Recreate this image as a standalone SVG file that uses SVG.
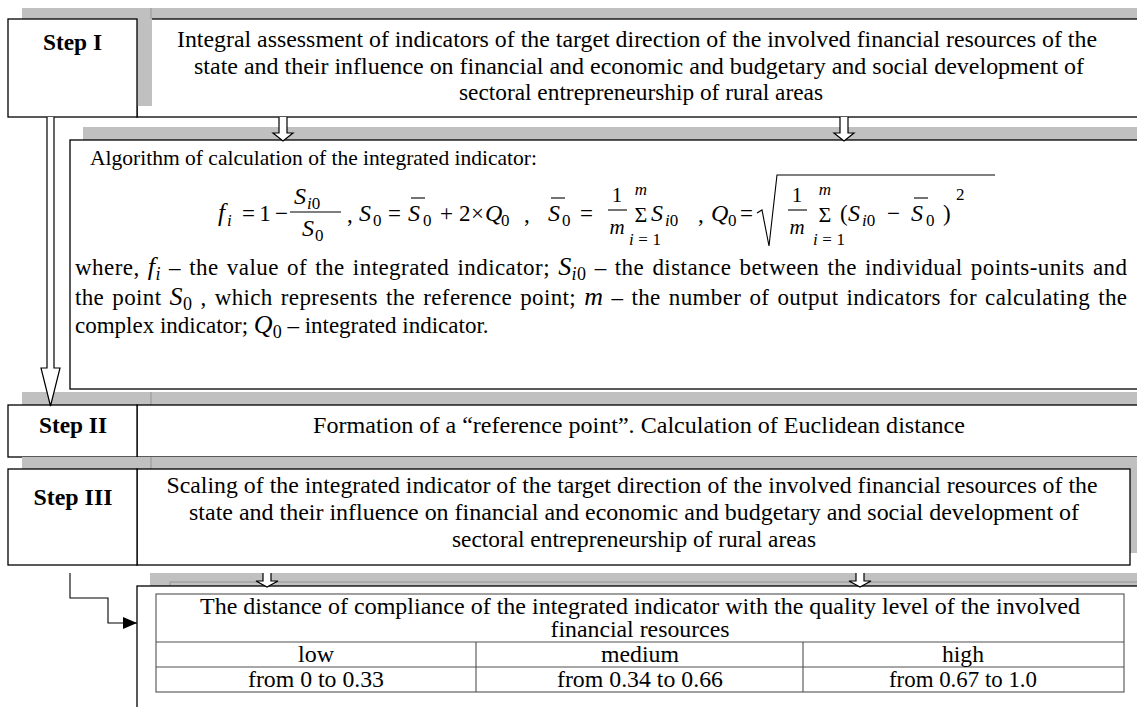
<svg xmlns="http://www.w3.org/2000/svg" width="1137" height="707" viewBox="0 0 1137 707">
<style>
.sh{fill:#c0c0c0}
.shl{stroke:#a3a3a3;stroke-width:1.5;fill:none}
.bx{fill:#fff;stroke:#000;stroke-width:1.3}
.t{font-family:"Liberation Serif","Times New Roman",serif;font-size:23.5px;fill:#000}
.a{font-size:21.5px}
.w{font-size:23px}
.j{word-spacing:2px}
.b{font-weight:bold}
.m{font-style:italic}
.ln{stroke:#000;stroke-width:1.1;fill:none}
.tb{stroke:#505050;stroke-width:1.1;fill:none}
.ha{fill:#fff;stroke:#000;stroke-width:1.2}
</style>
<defs>
<marker id="ah" markerUnits="userSpaceOnUse" markerWidth="16" markerHeight="12" refX="14" refY="6" orient="auto">
<path d="M0,0 L14,6 L0,12 Z" fill="#000"/>
</marker>
</defs>
<rect width="1137" height="707" fill="#fff"/>

<g id="step1">
<rect class="sh" x="151" y="8" width="1000" height="98"/>
<rect class="bx" x="137" y="19" width="1010" height="98"/>
<rect class="sh" x="22" y="8" width="130" height="98"/>
<line class="shl" x1="151" y1="8" x2="151" y2="19"/>
<rect class="bx" x="8" y="19" width="129" height="98"/>
<text class="t b" x="72.5" y="50" text-anchor="middle" textLength="59" lengthAdjust="spacingAndGlyphs">Step I</text>
<text class="t" x="637" y="47" text-anchor="middle" textLength="920" lengthAdjust="spacingAndGlyphs">Integral assessment of indicators of the target direction of the involved financial resources of the</text>
<text class="t" x="639" y="74" text-anchor="middle" textLength="890" lengthAdjust="spacingAndGlyphs">state and their influence on financial and economic and budgetary and social development of</text>
<text class="t" x="641" y="100" text-anchor="middle" textLength="364" lengthAdjust="spacingAndGlyphs">sectoral entrepreneurship of rural areas</text>
</g>

<g id="algorithm">
<rect class="sh" x="83" y="127" width="1060" height="260"/>
<rect class="bx" x="70" y="140" width="1080" height="249"/>
<text class="t a" x="90" y="165" textLength="447" lengthAdjust="spacingAndGlyphs">Algorithm of calculation of the integrated indicator:</text>
<g class="t">
<text class="m" x="218" y="221" font-size="25">f</text>
<text class="m" x="227" y="226" font-size="17">i</text>
<text x="242" y="221" font-size="23" textLength="46" lengthAdjust="spacing">=1−</text>
<text class="m" x="294" y="204" font-size="24">S</text>
<text x="307" y="209" font-size="17"><tspan class="m">i</tspan>0</text>
<line class="ln" x1="290" y1="212" x2="341" y2="212"/>
<text class="m" x="302" y="236" font-size="24">S</text>
<text x="315" y="241" font-size="17">0</text>
<text x="347" y="222" font-size="23">,</text>
<text class="m" x="359" y="221" font-size="24">S</text>
<text x="373" y="226" font-size="17">0</text>
<text x="388" y="221" font-size="23">=</text>
<text class="m" x="408" y="221" font-size="24">S</text>
<line class="ln" x1="411" y1="198" x2="425" y2="198"/>
<text x="423" y="226" font-size="17">0</text>
<text x="440" y="221" font-size="23">+</text>
<text x="459" y="221" font-size="23">2</text>
<text x="471" y="221" font-size="23">×</text>
<text class="m" x="485" y="221" font-size="24">Q</text>
<text x="501" y="226" font-size="17">0</text>
<text x="524" y="222" font-size="23">,</text>
<text class="m" x="548" y="221" font-size="24">S</text>
<line class="ln" x1="551" y1="198" x2="565" y2="198"/>
<text x="562" y="226" font-size="17">0</text>
<text x="580" y="221" font-size="23">=</text>
<text x="617" y="202" font-size="21" text-anchor="middle">1</text>
<line class="ln" x1="608" y1="210" x2="627" y2="210"/>
<text class="m" x="617" y="234" font-size="21" text-anchor="middle">m</text>
<text x="641" y="222" font-size="22" text-anchor="middle">Σ</text>
<text class="m" x="641" y="195" font-size="17" text-anchor="middle">m</text>
<text x="645" y="245" font-size="17" text-anchor="middle" textLength="32" lengthAdjust="spacing"><tspan class="m">i</tspan>=1</text>
<text class="m" x="651" y="221" font-size="24">S</text>
<text x="665" y="226" font-size="17"><tspan class="m">i</tspan>0</text>
<text x="698" y="222" font-size="23">,</text>
<text class="m" x="711" y="221" font-size="24">Q</text>
<text x="728" y="226" font-size="17">0</text>
<text x="740" y="221" font-size="23">=</text>
<path class="ln" d="M757,213 L762,210 L769,246 L777,175 H995"/>
<text x="797" y="202" font-size="21" text-anchor="middle">1</text>
<line class="ln" x1="788" y1="210" x2="807" y2="210"/>
<text class="m" x="797" y="234" font-size="21" text-anchor="middle">m</text>
<text x="825" y="222" font-size="22" text-anchor="middle">Σ</text>
<text class="m" x="825" y="195" font-size="17" text-anchor="middle">m</text>
<text x="829" y="245" font-size="17" text-anchor="middle" textLength="32" lengthAdjust="spacing"><tspan class="m">i</tspan>=1</text>
<text x="840" y="221" font-size="23">(</text>
<text class="m" x="848" y="221" font-size="24">S</text>
<text x="862" y="226" font-size="17"><tspan class="m">i</tspan>0</text>
<text x="887" y="221" font-size="23">−</text>
<text class="m" x="911" y="221" font-size="24">S</text>
<line class="ln" x1="914" y1="198" x2="928" y2="198"/>
<text x="926" y="226" font-size="17">0</text>
<text x="943" y="221" font-size="23">)</text>
<text x="956" y="200" font-size="17">2</text>
</g>
<text class="t w j" x="75" y="275" textLength="1052" lengthAdjust="spacing">where, <tspan class="m" font-size="26">f</tspan><tspan class="m" font-size="18" dy="5">i</tspan><tspan dy="-5"> – the value of the integrated indicator; </tspan><tspan class="m" font-size="26">S</tspan><tspan font-size="18" dy="5"><tspan class="m">i</tspan>0</tspan><tspan dy="-5"> – the distance between the individual points-units and</tspan></text>
<text class="t w j" x="75" y="305" textLength="1052" lengthAdjust="spacing">the point <tspan class="m" font-size="26">S</tspan><tspan font-size="18" dy="5">0</tspan><tspan dy="-5"> , which represents the reference point; </tspan><tspan class="m" font-size="26">m</tspan> – the number of output indicators for calculating the</text>
<text class="t w" x="75" y="333">complex indicator; <tspan class="m" font-size="26">Q</tspan><tspan font-size="18" dy="5">0</tspan><tspan dy="-5"> – integrated indicator.</tspan></text>
</g>

<g id="step2">
<rect class="sh" x="22" y="392" width="1120" height="14"/>
<line class="shl" x1="151" y1="392" x2="151" y2="405"/>
<rect class="bx" x="137" y="405" width="1010" height="52"/>
<rect class="bx" x="8" y="405" width="129" height="52"/>
<text class="t b" x="73" y="433" text-anchor="middle" textLength="68" lengthAdjust="spacingAndGlyphs">Step II</text>
<text class="t" x="639" y="433" text-anchor="middle" textLength="652" lengthAdjust="spacingAndGlyphs">Formation of a “reference point”. Calculation of Euclidean distance</text>
</g>

<g id="step3">
<rect class="sh" x="22" y="457" width="1120" height="96"/>
<line class="shl" x1="151" y1="457" x2="151" y2="469"/>
<rect class="bx" x="137" y="469" width="993" height="96"/>
<rect class="bx" x="8" y="469" width="129" height="96"/>
<text class="t b" x="73" y="505" text-anchor="middle" textLength="79" lengthAdjust="spacingAndGlyphs">Step III</text>
<text class="t" x="632" y="493" text-anchor="middle" textLength="931" lengthAdjust="spacingAndGlyphs">Scaling of the integrated indicator of the target direction of the involved financial resources of the</text>
<text class="t" x="634" y="520" text-anchor="middle" textLength="890" lengthAdjust="spacingAndGlyphs">state and their influence on financial and economic and budgetary and social development of</text>
<text class="t" x="634" y="547" text-anchor="middle" textLength="364" lengthAdjust="spacingAndGlyphs">sectoral entrepreneurship of rural areas</text>
</g>

<g id="scale-table">
<rect class="sh" x="150" y="573" width="990" height="14"/>
<path class="shl" d="M170,586 V582 H1137" stroke-width="1"/>
<rect class="bx" x="137" y="586" width="1010" height="130"/>
<rect class="tb" x="156" y="594" width="968" height="98"/>
<line class="tb" x1="156" y1="642" x2="1124" y2="642"/>
<line class="tb" x1="156" y1="667" x2="1124" y2="667"/>
<line class="tb" x1="476" y1="642" x2="476" y2="692"/>
<line class="tb" x1="803" y1="642" x2="803" y2="692"/>
<text class="t" x="640" y="614" text-anchor="middle" textLength="880" lengthAdjust="spacingAndGlyphs">The distance of compliance of the integrated indicator with the quality level of the involved</text>
<text class="t" x="640" y="637" text-anchor="middle" textLength="179" lengthAdjust="spacingAndGlyphs">financial resources</text>
<text class="t" x="316" y="662" text-anchor="middle" textLength="36" lengthAdjust="spacingAndGlyphs">low</text>
<text class="t" x="640" y="662" text-anchor="middle" textLength="78" lengthAdjust="spacingAndGlyphs">medium</text>
<text class="t" x="963" y="662" text-anchor="middle" textLength="42" lengthAdjust="spacingAndGlyphs">high</text>
<text class="t" x="316" y="687" text-anchor="middle" textLength="136" lengthAdjust="spacingAndGlyphs">from 0 to 0.33</text>
<text class="t" x="640" y="687" text-anchor="middle" textLength="166" lengthAdjust="spacingAndGlyphs">from 0.34 to 0.66</text>
<text class="t" x="963" y="687" text-anchor="middle" textLength="148" lengthAdjust="spacingAndGlyphs">from 0.67 to 1.0</text>
</g>

<g id="connectors">
<path class="ha" d="M279,117 V133 H273 L283,141 L293,133 H287 V117"/>
<path class="ha" d="M840,117 V133 H834 L844,141 L854,133 H848 V117"/>
<path class="ha" d="M47,117 V368 H41 L50.5,406 L60,368 H54 V117"/>
<path class="ha" d="M263,573 V581 H256 L267,587 L278,581 H271 V573"/>
<path class="ha" d="M856,573 V581 H849 L860,587 L871,581 H864 V573"/>
<path class="ln" stroke-width="1.3" d="M70,573 V598 H108 V623 H137" marker-end="url(#ah)"/>
</g>
</svg>
